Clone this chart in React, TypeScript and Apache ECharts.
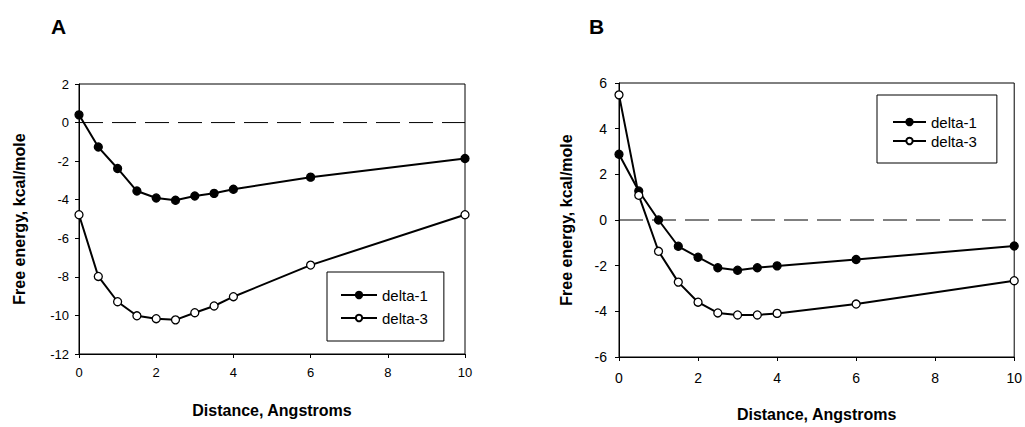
import React, { useEffect, useRef } from "react";
import * as echarts from "echarts";

const distances = [0, 0.5, 1, 1.5, 2, 2.5, 3, 3.5, 4, 6, 10];
const aDelta1 = [0.4, -1.27, -2.38, -3.55, -3.91, -4.03, -3.81, -3.67, -3.46, -2.83, -1.86];
const aDelta3 = [-4.78, -7.98, -9.29, -10.02, -10.17, -10.23, -9.86, -9.51, -9.03, -7.39, -4.78];
const bDelta1 = [2.88, 1.27, 0, -1.15, -1.63, -2.09, -2.2, -2.09, -2.01, -1.73, -1.14];
const bDelta3 = [5.48, 1.08, -1.37, -2.72, -3.6, -4.07, -4.16, -4.16, -4.09, -3.68, -2.66];
const zeroLine = [[0, 0], [10, 0]];
const seriesNames = ["delta-1", "delta-3"];
const panelLabels = ["A", "B"];
const xTitle = "Distance, Angstroms";
const yTitle = "Free energy, kcal/mole";

const pairs = (ys: number[]) => distances.map((x, i) => [x, ys[i]]);

export default function App() {
  const ref = useRef<HTMLDivElement>(null);
  useEffect(() => {
    if (!ref.current) return;
    const chart = echarts.init(ref.current, null, { renderer: "svg" });
    const sans = "Arial, 'Liberation Sans', sans-serif";
    const narrow = "'Liberation Sans Narrow', 'Arial Narrow', sans-serif";
    const axisLine = { show: true, onZero: false, lineStyle: { color: "#000", width: 1 } };
    const axisTick = { show: true, inside: false, length: 4, lineStyle: { color: "#000" } };
    const mkSeries = (name: string, data: number[], idx: number, filled: boolean) => ({
      type: "line",
      name,
      xAxisIndex: idx,
      yAxisIndex: idx,
      data: pairs(data),
      symbol: "circle",
      symbolSize: 8,
      showSymbol: true,
      lineStyle: { color: "#000", width: 2 },
      itemStyle: { color: filled ? "#000" : "#fff", borderColor: "#000", borderWidth: 1.3 },
      z: filled ? 3 : 4,
    });
    const mkZero = (idx: number) => ({
      type: "line",
      name: "zero",
      xAxisIndex: idx,
      yAxisIndex: idx,
      data: zeroLine,
      symbol: "none",
      silent: true,
      lineStyle: { color: "#000", width: 1, type: [24, 9] },
      z: 1,
    });
    const titleStyle = { fontFamily: sans, fontWeight: "bold", fontSize: 21, color: "#000" };
    const nameStyle = { color: "#000", fontFamily: sans, fontWeight: "bold", fontSize: 16 };
    chart.setOption({
      animation: false,
      backgroundColor: "#fff",
      title: [
        { text: panelLabels[0], left: 46, top: 11, textStyle: titleStyle },
        { text: panelLabels[1], left: 584, top: 11, textStyle: titleStyle },
      ],
      grid: [
        { left: 79, top: 84, width: 386, height: 270, show: true, borderColor: "#000", borderWidth: 1, backgroundColor: "transparent" },
        { left: 619, top: 83, width: 397, height: 278, show: true, borderColor: "#000", borderWidth: 1, backgroundColor: "transparent" },
      ],
      xAxis: [
        {
          type: "value", gridIndex: 0, min: 0, max: 10, interval: 2,
          axisLine, axisTick, splitLine: { show: false },
          axisLabel: { color: "#000", fontFamily: narrow, fontSize: 13, margin: 12 },
          name: xTitle, nameLocation: "middle", nameGap: 48,
          nameTextStyle: nameStyle,
        },
        {
          type: "value", gridIndex: 1, min: 0, max: 10, interval: 2,
          axisLine, axisTick, splitLine: { show: false },
          axisLabel: { color: "#000", fontFamily: sans, fontSize: 14, margin: 14 },
          name: xTitle, nameLocation: "middle", nameGap: 49,
          nameTextStyle: nameStyle,
        },
      ],
      yAxis: [
        {
          type: "value", gridIndex: 0, min: -12, max: 2, interval: 2,
          axisLine, axisTick, splitLine: { show: false },
          axisLabel: { color: "#000", fontFamily: sans, fontSize: 13, margin: 10 },
          name: yTitle, nameLocation: "middle", nameGap: 52, nameRotate: 90,
          nameTextStyle: nameStyle,
        },
        {
          type: "value", gridIndex: 1, min: -6, max: 6, interval: 2,
          axisLine, axisTick, splitLine: { show: false },
          axisLabel: { color: "#000", fontFamily: sans, fontSize: 14, margin: 12 },
          name: yTitle, nameLocation: "middle", nameGap: 45, nameRotate: 90,
          nameTextStyle: nameStyle,
        },
      ],
      legend: [
        {
          data: seriesNames, orient: "vertical", left: 327, top: 272, selectedMode: false,
          borderColor: "#000", borderWidth: 1, padding: [15, 16, 15, 13], itemGap: 7,
          itemWidth: 36, itemHeight: 8,
          textStyle: { color: "#000", fontFamily: sans, fontSize: 15, lineHeight: 16 },
        },
        {
          data: seriesNames, orient: "vertical", left: 877, top: 95, selectedMode: false,
          borderColor: "#000", borderWidth: 1, padding: [19, 20, 14, 15], itemGap: 3,
          itemWidth: 33, itemHeight: 8,
          textStyle: { color: "#000", fontFamily: sans, fontSize: 15, lineHeight: 16 },
        },
      ],
      series: [
        mkZero(0),
        mkZero(1),
        mkSeries(seriesNames[0], aDelta1, 0, true),
        mkSeries(seriesNames[1], aDelta3, 0, false),
        mkSeries(seriesNames[0], bDelta1, 1, true),
        mkSeries(seriesNames[1], bDelta3, 1, false),
      ],
    });
    return () => chart.dispose();
  }, []);
  return <div ref={ref} style={{ position: "fixed", left: 0, top: 0, width: 1025, height: 427 }} />;
}
